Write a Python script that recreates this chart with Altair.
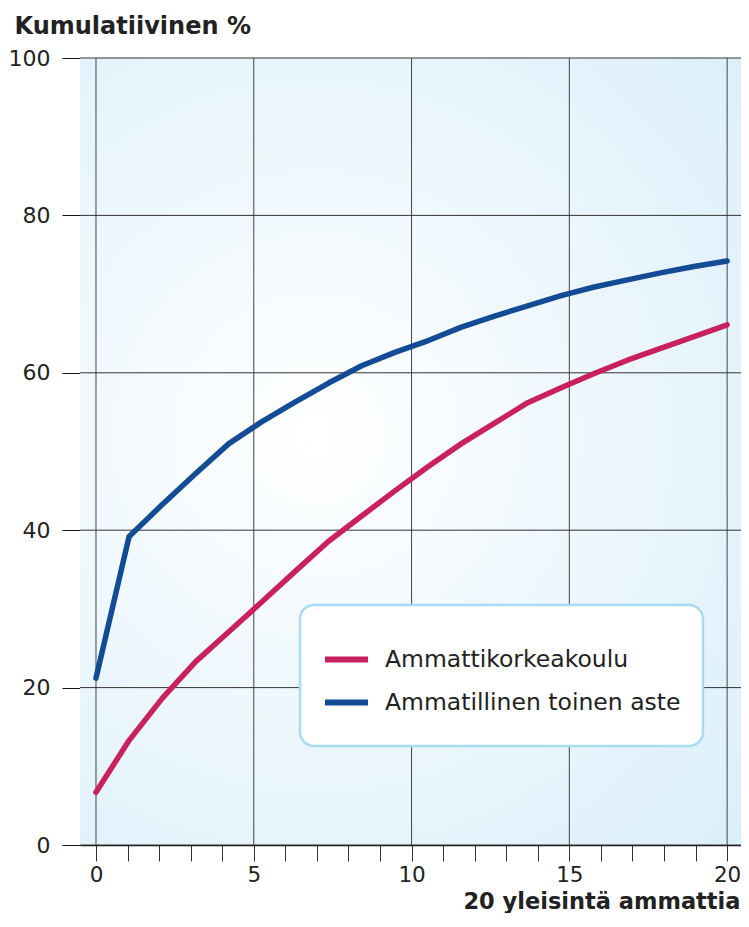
import altair as alt
import pandas as pd

# 20 most common occupations, cumulative share (%)
x_pos = [0, 1.05, 2.11, 3.16, 4.21, 5.26, 6.32, 7.37, 8.42, 9.47,
         10.53, 11.58, 12.63, 13.68, 14.74, 15.79, 16.84, 17.89, 18.95, 20]
amk = [6.7, 13.3, 18.7, 23.3, 27.1, 30.9, 34.8, 38.6, 41.8, 45.0,
       48.1, 51.0, 53.6, 56.2, 58.1, 59.9, 61.6, 63.1, 64.6, 66.1]
toinen = [21.2, 39.2, 43.3, 47.2, 51.0, 53.8, 56.3, 58.7, 60.9, 62.6,
          64.1, 65.8, 67.2, 68.5, 69.8, 70.9, 71.8, 72.7, 73.5, 74.2]
series = ["Ammattikorkeakoulu", "Ammatillinen toinen aste"]
colors = ["#C8215D", "#134C94"]
x_ticks = list(range(21))
x_grid = [0, 5, 10, 15, 20]
y_ticks = [0, 20, 40, 60, 80, 100]

rows = []
for name, vals in zip(series, [amk, toinen]):
    for x, v in zip(x_pos, vals):
        rows.append({"x": x, "y": v, "sarja": name})
df = pd.DataFrame(rows)

FONT = "DejaVu Sans"
X_DOMAIN = [-0.507, 20.44]
Y_DOMAIN = [0, 100]
xs = alt.Scale(domain=X_DOMAIN, nice=False, zero=False)
ys = alt.Scale(domain=Y_DOMAIN, nice=False, zero=False)

x_axis = alt.Axis(
    values=x_ticks,
    labelExpr="datum.value % 5 === 0 ? datum.label : ''",
    grid=False,
    tickSize=16, tickColor="#333333", tickWidth=1,
    domainColor="#111111", domainWidth=1.5,
    labelFont=FONT, labelFontSize=21.5, labelColor="#222222",
    labelPadding=3, labelFlush=False,
    title="20 yleisintä ammattia",
    titleFont=FONT, titleFontSize=22.5, titleFontWeight="bold",
    titleColor="#222222", titleAlign="right", titleAnchor="end",
    titleX=660, titleY=63, titleBaseline="alphabetic",
)
y_axis = alt.Axis(
    values=y_ticks,
    grid=False,
    tickSize=18, tickColor="#111111", tickWidth=1,
    domainColor="#999999", domainWidth=1,
    labelFont=FONT, labelFontSize=22, labelColor="#222222",
    labelPadding=12,
    title="Kumulatiivinen %",
    titleFont=FONT, titleFontSize=24, titleFontWeight="bold",
    titleColor="#222222", titleAngle=0, titleAlign="left",
    titleX=-66, titleY=-25, titleBaseline="alphabetic",
)

bg = alt.RadialGradient(
    gradient="radial",
    stops=[alt.GradientStop(color="#ffffff", offset=0),
           alt.GradientStop(color="#dbeffa", offset=1)],
    x1=0.38, y1=0.48, r1=0, x2=0.38, y2=0.48, r2=0.74,
)

background = alt.Chart(pd.DataFrame({"a": [0]})).mark_rect(fill=bg).encode(
    x=alt.X(datum=X_DOMAIN[0], scale=xs, axis=x_axis),
    x2=alt.X2(datum=X_DOMAIN[1]),
    y=alt.Y(datum=Y_DOMAIN[0], scale=ys, axis=y_axis),
    y2=alt.Y2(datum=Y_DOMAIN[1]),
)

vgrid = alt.Chart(pd.DataFrame({"gx": x_grid})).mark_rule(
    color="#444444", strokeWidth=1
).encode(x=alt.X("gx:Q", scale=xs, axis=x_axis))

hgrid = alt.Chart(pd.DataFrame({"gy": y_ticks})).mark_rule(
    color="#333333", strokeWidth=1
).encode(y=alt.Y("gy:Q", scale=ys, axis=y_axis))

lines = alt.Chart(df).mark_line(
    strokeWidth=5.5, strokeCap="round", strokeJoin="round"
).encode(
    x=alt.X("x:Q", scale=xs, axis=x_axis),
    y=alt.Y("y:Q", scale=ys, axis=y_axis),
    color=alt.Color("sarja:N",
                    scale=alt.Scale(domain=series, range=colors),
                    sort=series,
                    legend=alt.Legend(
                        orient="none", legendX=220, legendY=547,
                        title=" ", titleFontSize=1, titlePadding=10,
                        fillColor="#ffffff", strokeColor="#a8dcf3",
                        cornerRadius=14, padding=22,
                        symbolType="stroke", symbolSize=1849,
                        symbolStrokeWidth=6,
                        labelFont=FONT, labelFontSize=23.5,
                        labelColor="#222222", labelOffset=14,
                        labelLimit=500, rowPadding=0, clipHeight=43,
                    )),
)

chart = alt.layer(background, vgrid, hgrid, lines).properties(
    width=661, height=787,
    autosize=alt.AutoSizeParams(type="none"),
    padding={"left": 72, "top": 50, "right": 0, "bottom": 68},
).configure_view(
    stroke="#888888", strokeWidth=1,
).configure_legend(
    strokeWidth=2.5,
)

chart.save("out.html", embed_options={"renderer": "svg", "actions": False})
